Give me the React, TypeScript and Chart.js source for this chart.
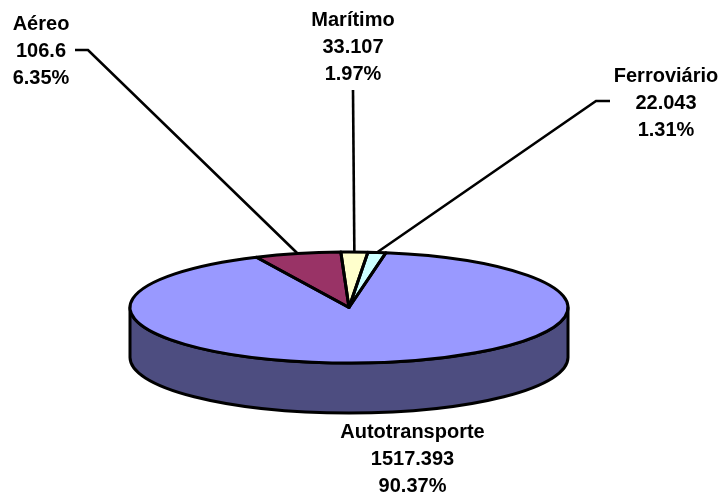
import React, { useEffect, useRef } from "react";
import { Chart, registerables } from "chart.js";

Chart.register(...registerables);

const categories = ["Aéreo", "Marítimo", "Ferroviário", "Autotransporte"];
const values = [106.6, 33.107, 22.043, 1517.393];
const valueLabels = ["106.6", "33.107", "22.043", "1517.393"];
const percentLabels = ["6.35%", "1.97%", "1.31%", "90.37%"];
const sliceColors = ["#993366", "#ffffcc", "#ccffff", "#9999ff"];

const WIDTH = 723;
const HEIGHT = 498;
const CENTER_X = 349;
const CENTER_Y = 307.5;
const RADIUS_Y = 55.5;
const DEPTH = 50;
const WALL_COLOR = "#4d4d80";
const FONT = 'bold 20px "Liberation Sans", Arial, sans-serif';

// Where each three-line label sits: centre x, and baseline y of its first line.
const labelAnchors = [
  { x: 41, y: 30 },
  { x: 353, y: 26 },
  { x: 666, y: 82 },
  { x: 412.5, y: 438 },
];

// Leader elbows in draw order, ending on the rim at the slice's mid-angle.
const leaders: ([number, number][] | null)[] = [
  [[75, 50], [88, 50]],
  [[353, 90]],
  [[610, 101], [596, 101]],
  null,
];

const pie3d = {
  id: "pie3d",
  beforeDatasetsDraw(chart: Chart) {
    const ctx = chart.ctx;
    const arcs = chart.getDatasetMeta(0).data as any[];
    const rx = arcs[0].outerRadius;

    // Side wall: only the front half of the rim is visible.
    ctx.save();
    ctx.lineWidth = 3;
    ctx.strokeStyle = "#000";
    ctx.lineJoin = "round";
    ctx.fillStyle = WALL_COLOR;
    ctx.beginPath();
    ctx.ellipse(CENTER_X, CENTER_Y, rx, RADIUS_Y, 0, 0, Math.PI);
    ctx.lineTo(CENTER_X - rx, CENTER_Y + DEPTH);
    ctx.ellipse(CENTER_X, CENTER_Y + DEPTH, rx, RADIUS_Y, 0, Math.PI, 0, true);
    ctx.closePath();
    ctx.fill();
    ctx.stroke();
    ctx.restore();

    // Tilt the flat pie into an ellipse for the library's own arc drawing.
    const cx = arcs[0].x;
    const cy = arcs[0].y;
    ctx.save();
    ctx.translate(CENTER_X, CENTER_Y);
    ctx.scale(1, RADIUS_Y / rx);
    ctx.translate(-cx, -cy);
  },
  afterDatasetsDraw(chart: Chart) {
    const ctx = chart.ctx;
    ctx.restore();

    const arcs = chart.getDatasetMeta(0).data as any[];
    ctx.save();
    ctx.strokeStyle = "#000";
    ctx.lineWidth = 3;
    ctx.lineJoin = "round";
    for (const arc of arcs) {
      ctx.beginPath();
      ctx.moveTo(CENTER_X, CENTER_Y);
      ctx.ellipse(CENTER_X, CENTER_Y, arc.outerRadius, RADIUS_Y, 0, arc.startAngle, arc.endAngle);
      ctx.closePath();
      ctx.stroke();
    }
    ctx.restore();
  },
  afterDraw(chart: Chart) {
    const ctx = chart.ctx;
    const arcs = chart.getDatasetMeta(0).data as any[];
    ctx.save();

    ctx.strokeStyle = "#000";
    ctx.lineWidth = 2.6;
    leaders.forEach((points, i) => {
      if (!points) return;
      const arc = arcs[i];
      const mid = (arc.startAngle + arc.endAngle) / 2;
      ctx.beginPath();
      points.forEach(([x, y], j) => (j === 0 ? ctx.moveTo(x, y) : ctx.lineTo(x, y)));
      ctx.lineTo(
        CENTER_X + arc.outerRadius * Math.cos(mid),
        CENTER_Y + RADIUS_Y * Math.sin(mid),
      );
      ctx.stroke();
    });

    ctx.fillStyle = "#000";
    ctx.font = FONT;
    ctx.textAlign = "center";
    ctx.textBaseline = "alphabetic";
    categories.forEach((name, i) => {
      const { x, y } = labelAnchors[i];
      ctx.fillText(name, x, y);
      ctx.fillText(valueLabels[i], x, y + 27);
      ctx.fillText(percentLabels[i], x, y + 53.5);
    });
    ctx.restore();
  },
};

export default function App() {
  const canvasRef = useRef<HTMLCanvasElement | null>(null);

  useEffect(() => {
    const chart = new Chart(canvasRef.current!, {
      type: "pie",
      data: {
        labels: categories,
        datasets: [
          {
            data: values,
            backgroundColor: sliceColors,
            borderWidth: 0,
          },
        ],
      },
      options: {
        responsive: false,
        animation: false,
        rotation: -25,
        layout: { padding: { left: 130, right: 155, top: 30, bottom: 30 } },
        plugins: {
          legend: { display: false },
          tooltip: { enabled: false },
          title: { display: false },
        },
      },
      plugins: [pie3d],
    });
    return () => chart.destroy();
  }, []);

  return (
    <canvas
      ref={canvasRef}
      width={WIDTH}
      height={HEIGHT}
      style={{ position: "fixed", left: 0, top: 0, width: WIDTH, height: HEIGHT, background: "#fff" }}
    />
  );
}
